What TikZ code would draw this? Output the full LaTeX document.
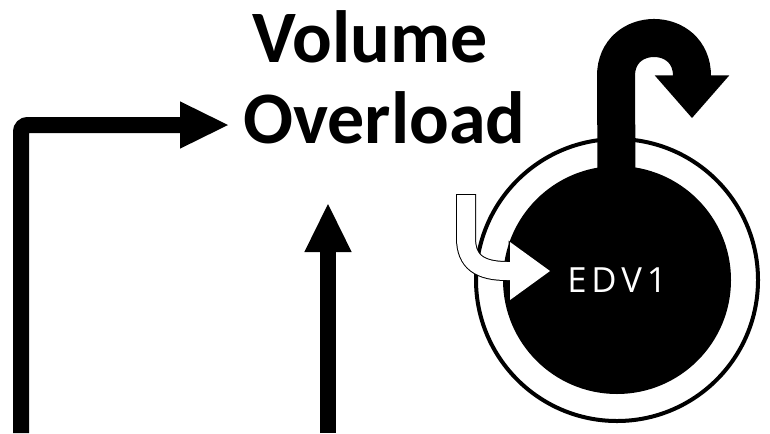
\documentclass[tikz,border=0pt]{standalone}
\usepackage{fontspec}
\usetikzlibrary{arrows.meta}
\newfontfamily\titlefont{Carlito}
\newfontfamily\labelfont[LetterSpace=14]{Open Sans}
\begin{document}
\begin{tikzpicture}[x=0.75pt,y=-0.75pt,
  thickarrow/.style={line width=12pt,
    -{Triangle[length=36pt,width=35.5pt,line width=0pt]}},
  title/.style={font=\titlefont\bfseries\fontsize{55.5}{60}\selectfont,
    inner sep=0pt,anchor=base west},
  ringstyle/.style={circle,draw=black,fill=white,line width=3pt,
    minimum size=211.5pt,inner sep=0pt},
  diskstyle/.style={circle,fill=black,minimum size=171pt,inner sep=0pt},
  hookstyle/.style={line width=28.5pt,
    -{Triangle[length=32pt,width=56pt,line width=0pt]}},
  inflowline/.style={line width=15pt,black,
    -{Triangle[length=31pt,width=45.5pt,line width=0pt]}},
  inflowfill/.style={line width=13.5pt,white,
    -{Triangle[length=30pt,width=43.5pt,line width=0pt]}}]
\useasboundingbox (0,0) rectangle (770,433);

% labels
\node[title] (vol) at (252,62) {Volume};
\node[title] (ovl) at (243,143) {Overload};

% left elbow connector into the title
\coordinate (lstart) at (21,433);
\coordinate (lcorner) at (21,125);
\coordinate (lend) at (228,125);
\draw[thickarrow,rounded corners=5pt] (lstart) -- (lcorner) -- (lend);

% rising connector from below
\coordinate (mstart) at (328,433);
\coordinate (mend) at (328,204);
\draw[thickarrow] (mstart) -- (mend);

% ventricle: ring and filled chamber
\node[ringstyle] (ring) at (617,280) {};
\node[diskstyle] (disk) at (617,280) {};

% outflow hook rising from the chamber and turning back down
\coordinate (hleft) at (616,76);
\coordinate (hright) at (692,76);
\coordinate (htip) at (692,118);
\draw[hookstyle] (disk.center) -- (hleft)
  .. controls (616,25.3) and (692,25.3) .. (hright) -- (htip);

% hollow inflow arrow
\coordinate (ia) at (466,194);
\coordinate (ib) at (466,195);
\coordinate (ic) at (466,238);
\coordinate (id) at (507,271);
\coordinate (ie) at (550,271);
\draw[inflowline] (ia) -- (ic) .. controls (466,262) and (480,271) .. (id) -- (ie);
\draw[inflowfill] (ib) -- (ic) .. controls (466,262) and (480,271) .. (id) -- (ie);

% chamber label
\node[font=\labelfont\fontsize{26}{30}\selectfont,text=white,inner sep=0pt] (edv) at (617,280) {EDV1};
\end{tikzpicture}
\end{document}
